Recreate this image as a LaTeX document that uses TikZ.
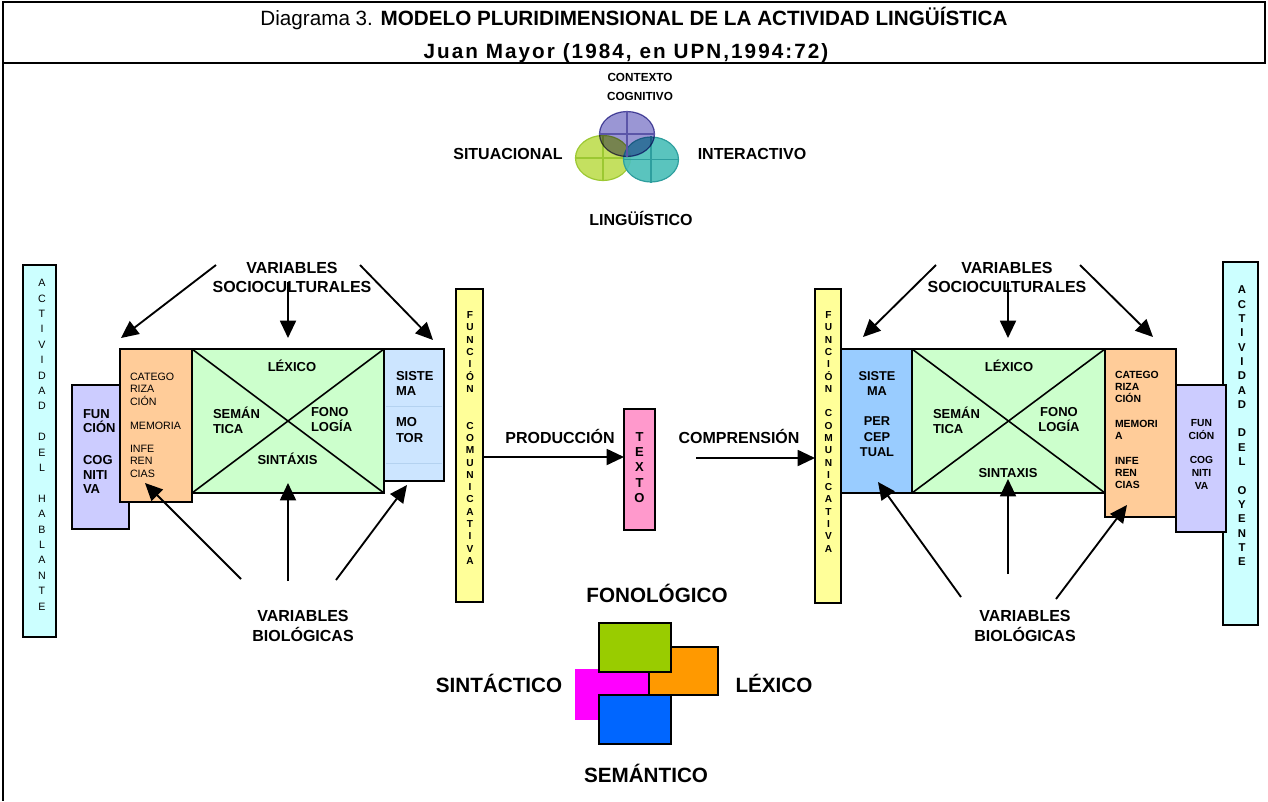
\documentclass[tikz,border=0pt]{standalone}
\usepackage{fontspec}
\setmainfont{Liberation Sans}
\usetikzlibrary{arrows.meta,fit,shapes.geometric}
\definecolor{cyanbar}{HTML}{CCFFFF}
\definecolor{yellowbar}{HTML}{FFFF99}
\definecolor{pinkbox}{HTML}{FF99CC}
\definecolor{lilac}{HTML}{CCCCFF}
\definecolor{peach}{HTML}{FFCC99}
\definecolor{mint}{HTML}{CCFFCC}
\definecolor{paleblue}{HTML}{CCE5FF}
\definecolor{gridblue}{HTML}{B4D2F0}
\definecolor{skyblue}{HTML}{99CCFF}
\definecolor{vpurple}{HTML}{9A96D4}
\definecolor{vpurpleln}{HTML}{5B55A8}
\definecolor{vgreen}{HTML}{C4E060}
\definecolor{vgreenln}{HTML}{9CC832}
\definecolor{vteal}{HTML}{4CBFB8}
\definecolor{vtealln}{HTML}{2E9E9E}
\definecolor{sqgreen}{HTML}{99CC00}
\definecolor{sqorange}{HTML}{FF9900}
\definecolor{sqmagenta}{HTML}{FF00FF}
\definecolor{sqblue}{HTML}{0066FF}
\newcommand\fsz[2]{\fontsize{#1}{#2}\selectfont}
\begin{document}
\begin{tikzpicture}[x=0.75pt,y=-0.75pt,
  frame/.style={draw=black, line width=1.5pt},
  panel/.style={draw=black, line width=1.4pt, inner sep=0pt, outer sep=0pt},
  txt/.style={inner sep=0pt, outer sep=0pt},
  blk/.style={txt, align=left, anchor=north west},
  cblk/.style={txt, align=center, anchor=north},
  arr/.style={line width=1.4pt, -{Triangle[length=13pt,width=12pt]}},
  diag/.style={line width=1.2pt},
  venn/.style={ellipse, inner sep=0pt, line width=0.9pt,
    minimum width=41.25pt, minimum height=33.75pt},
  square/.style={draw=black, line width=1.4pt, inner sep=0pt},
  label/.style={txt, font=\fsz{12}{14}\bfseries},
  biglabel/.style={txt, font=\fsz{15.5}{18}\bfseries},
  vletter/.style={txt, font=\fsz{8}{9}},
  vletterb/.style={txt, font=\fsz{8.5}{9}\bfseries},
  fcletter/.style={txt, font=\fsz{7.6}{8}\bfseries}
]
\useasboundingbox (0,0) rectangle (1268,801);

% ---------- title block ----------
\draw[frame] (3,2) rectangle (1265,63);
\draw[frame] (3,63) -- (3,801);
\node[txt] (title) at (634,18.5)
  {\fsz{15.5}{18}Diagrama 3. \bfseries MODELO PLURIDIMENSIONAL DE LA ACTIVIDAD LINGÜÍSTICA};
\node[txt] (author) at (626,53)
  {\fsz{15.5}{18}\bfseries\addfontfeature{LetterSpace=10}Juan Mayor (1984, en UPN,1994:72)};

% ---------- context circles ----------
\node[txt, font=\fsz{8.8}{10}\bfseries] (ctx1) at (640,77) {CONTEXTO};
\node[txt, font=\fsz{8.8}{10}\bfseries] (ctx2) at (640,96) {COGNITIVO};
\node[venn, fill=vgreen, draw=vgreenln] (sit) at (603,158) {};
\draw[vgreenln, line width=0.8pt] (sit.north) -- (sit.south) (sit.west) -- (sit.east);
\node[venn, fill=vteal, fill opacity=0.92, draw=vtealln] (inter) at (651,159.5) {};
\draw[vtealln, line width=0.8pt] (inter.north) -- (inter.south) (inter.west) -- (inter.east);
\node[venn, fill=vpurple, draw=vpurpleln, blend mode=multiply] (cog) at (627,134) {};
\draw[vpurpleln, line width=0.8pt] (cog.north) -- (cog.south) (cog.west) -- (cog.east);
\node[label] (lsit) at (508,154) {SITUACIONAL};
\node[label] (linter) at (752,154) {INTERACTIVO};
\node[label] (lling) at (641,218) {LINGÜÍSTICO};

% ---------- speaker side ----------
\node[panel, fill=cyanbar, fit={(23,265) (56,637)}] (hab) {};
\foreach \ch [count=\i from 0] in {A,C,T,I,V,I,D,A,D}
  \node[vletter] (habA\i) at (42,283+15.4*\i) {\ch};
\foreach \ch [count=\i from 10] in {D,E,L}
  \node[vletter] (habB\i) at (42,283+15.4*\i) {\ch};
\foreach \ch [count=\i from 14] in {H,A,B,L,A,N,T,E}
  \node[vletter] (habC\i) at (42,283+15.4*\i) {\ch};

\node[panel, fill=lilac, fit={(72,385) (129,529)}] (fcogL) {};
\node[blk, font=\fsz{9.75}{10.9}\bfseries] (fcogLt) at (83,409.3)
  {FUN\\CIÓN\\[13pt]COG\\NITI\\VA};
\node[panel, fill=peach, fit={(120,349) (192,502)}] (catL) {};
\node[blk, font=\fsz{8}{9.15}] (catLt) at (130,373.2)
  {CATEGO\\RIZA\\CIÓN\\[9.3pt]MEMORIA\\[8.2pt]INFE\\REN\\CIAS};
\node[panel, fill=mint, fit={(192,349) (384,493)}] (lexL) {};
\draw[diag] (lexL.north west) -- (lexL.south east);
\draw[diag] (lexL.south west) -- (lexL.north east);
\node[txt, font=\fsz{9.75}{11}\bfseries] (lexLa) at (292,366) {LÉXICO};
\node[blk, font=\fsz{9.75}{11.25}\bfseries] (lexLb) at (213,407.4) {SEMÁN\\TICA};
\node[blk, font=\fsz{9.75}{11.25}\bfseries] (lexLc) at (311,407.4) {FONO\\LOGÍA};
\node[txt, font=\fsz{9.75}{11}\bfseries] (lexLd) at (287.5,459) {SINTÁXIS};
\node[panel, fill=paleblue, fit={(384,349) (444,481)}] (motor) {};
\draw[gridblue, line width=0.5pt] (386,406) -- (442,406) (386,463) -- (442,463);
\node[blk, font=\fsz{9.75}{11.6}\bfseries] (motort) at (396,371.4)
  {SISTE\\MA\\[11.6pt]MO\\TOR};

\node[panel, fill=yellowbar, fit={(456,289) (483,602)}] (fcL) {};
\foreach \ch [count=\i from 0] in {F,U,N,C,I,Ó,N}
  \node[fcletter] (fcLa\i) at (470,315+12.3*\i) {\ch};
\foreach \ch [count=\i from 9] in {C,O,M,U,N,I,C,A,T,I,V,A}
  \node[fcletter] (fcLb\i) at (470,315+12.3*\i) {\ch};

% ---------- text in the middle ----------
\node[panel, fill=pinkbox, fit={(624,409) (655,530)}] (texto) {};
\foreach \ch [count=\i from 0] in {T,E,X,T,O}
  \node[txt, font=\fsz{9.75}{11}\bfseries] (textoL\i) at (639.5,437+15.25*\i) {\ch};
\node[label] (prod) at (560,436) {PRODUCCIÓN};
\node[label] (comp) at (739,436) {COMPRENSIÓN};
\coordinate (prodS) at (fcL.east |- 0,457);
\draw[arr] (prodS) -- (texto.west |- prodS);
\coordinate (compS) at (696,458);

% ---------- listener side ----------
\node[panel, fill=yellowbar, fit={(815,289) (841,603)}] (fcR) {};
\foreach \ch [count=\i from 0] in {F,U,N,C,I,Ó,N}
  \node[fcletter] (fcRa\i) at (828.5,315+12.3*\i) {\ch};
\foreach \ch [count=\i from 8] in {C,O,M,U,N,I,C,A,T,I,V,A}
  \node[fcletter] (fcRb\i) at (828.5,315+12.3*\i) {\ch};
\draw[arr] (compS) -- (fcR.west |- compS);

\node[panel, fill=skyblue, fit={(841,349) (912,493)}] (percep) {};
\node[cblk, font=\fsz{9.6}{11.5}\bfseries] (percept) at (877,371.4)
  {SISTE\\MA\\[11pt]PER\\CEP\\TUAL};
\node[panel, fill=mint, fit={(912,349) (1105,493)}] (lexR) {};
\draw[diag] (lexR.north west) -- (lexR.south east);
\draw[diag] (lexR.south west) -- (lexR.north east);
\node[txt, font=\fsz{9.75}{11}\bfseries] (lexRa) at (1009,366) {LÉXICO};
\node[blk, font=\fsz{9.75}{11.25}\bfseries] (lexRb) at (933,407.4) {SEMÁN\\TICA};
\node[cblk, font=\fsz{9.75}{11.25}\bfseries] (lexRc) at (1059,407.4) {FONO\\LOGÍA};
\node[txt, font=\fsz{9.75}{11}\bfseries] (lexRd) at (1008,473) {SINTAXIS};
\node[panel, fill=peach, fit={(1105,349) (1176,517)}] (catR) {};
\node[blk, font=\fsz{7.8}{9.15}\bfseries] (catRt) at (1115,371.3)
  {CATEGO\\RIZA\\CIÓN\\[9.4pt]MEMORI\\A\\[9pt]INFE\\REN\\CIAS};

\node[panel, fill=cyanbar, fit={(1223,262) (1258,625)}] (oye) {};
\foreach \ch [count=\i from 0] in {A,C,T,I,V,I,D,A,D}
  \node[vletterb] (oyeA\i) at (1242,290+14.3*\i) {\ch};
\foreach \ch [count=\i from 10] in {D,E,L}
  \node[vletterb] (oyeB\i) at (1242,290+14.3*\i) {\ch};
\foreach \ch [count=\i from 14] in {O,Y,E,N,T,E}
  \node[vletterb] (oyeC\i) at (1242,290+14.3*\i) {\ch};
\node[panel, fill=lilac, fit={(1176,385) (1226,532)}] (fcogR) {};
\node[cblk, font=\fsz{7.7}{9.5}\bfseries] (fcogRt) at (1201.5,419.3)
  {FUN\\CIÓN\\[9.2pt]COG\\NITI\\VA};

% ---------- sociocultural variables ----------
\node[txt, font=\fsz{12}{14}\bfseries, align=center] (socL) at (292,277.5)
  {VARIABLES\\SOCIOCULTURALES};
\node[txt, font=\fsz{12}{14}\bfseries, align=center] (socR) at (1007,277.5)
  {VARIABLES\\SOCIOCULTURALES};
\coordinate (sL1) at (216,265); \coordinate (sL1e) at (121,338);
\coordinate (sL2) at (288,282); \coordinate (sL2e) at (288,338);
\coordinate (sL3) at (360,265); \coordinate (sL3e) at (433,340);
\draw[arr] (sL1) -- (sL1e);
\draw[arr] (sL2) -- (sL2e);
\draw[arr] (sL3) -- (sL3e);
\coordinate (sR1) at (936,265); \coordinate (sR1e) at (863,337);
\coordinate (sR2) at (1008,282); \coordinate (sR2e) at (1008,338);
\coordinate (sR3) at (1080,265); \coordinate (sR3e) at (1153,337);
\draw[arr] (sR1) -- (sR1e);
\draw[arr] (sR2) -- (sR2e);
\draw[arr] (sR3) -- (sR3e);

% ---------- biological variables ----------
\node[txt, font=\fsz{12}{15}\bfseries, align=center] (bioL) at (303,626)
  {VARIABLES\\BIOLÓGICAS};
\node[txt, font=\fsz{12}{15}\bfseries, align=center] (bioR) at (1025,626)
  {VARIABLES\\BIOLÓGICAS};
\coordinate (bL1) at (241,579); \coordinate (bL1e) at (145,483);
\coordinate (bL2) at (288,581); \coordinate (bL2e) at (288,483);
\coordinate (bL3) at (336,580); \coordinate (bL3e) at (407,485);
\draw[arr] (bL1) -- (bL1e);
\draw[arr] (bL2) -- (bL2e);
\draw[arr] (bL3) -- (bL3e);
\coordinate (bR1) at (961,597); \coordinate (bR1e) at (878,482);
\coordinate (bR2) at (1008,574); \coordinate (bR2e) at (1008,479);
\coordinate (bR3) at (1056,599); \coordinate (bR3e) at (1127,505);
\draw[arr] (bR1) -- (bR1e);
\draw[arr] (bR2) -- (bR2e);
\draw[arr] (bR3) -- (bR3e);

% ---------- linguistic levels ----------
\node[biglabel] (fono) at (657,593) {FONOLÓGICO};
\node[biglabel] (sint) at (499,683) {SINTÁCTICO};
\node[biglabel] (lexi) at (774,683) {LÉXICO};
\node[biglabel] (sema) at (646,773) {SEMÁNTICO};
\node[inner sep=0pt, fill=sqmagenta, fit={(575,669) (649,720)}] (sqM) {};
\node[square, fill=sqorange, fit={(649,647) (718,695)}] (sqO) {};
\node[square, fill=sqgreen, fit={(599,623) (671,672)}] (sqG) {};
\node[square, fill=sqblue, fit={(599,695) (671,744)}] (sqB) {};
\end{tikzpicture}
\end{document}
